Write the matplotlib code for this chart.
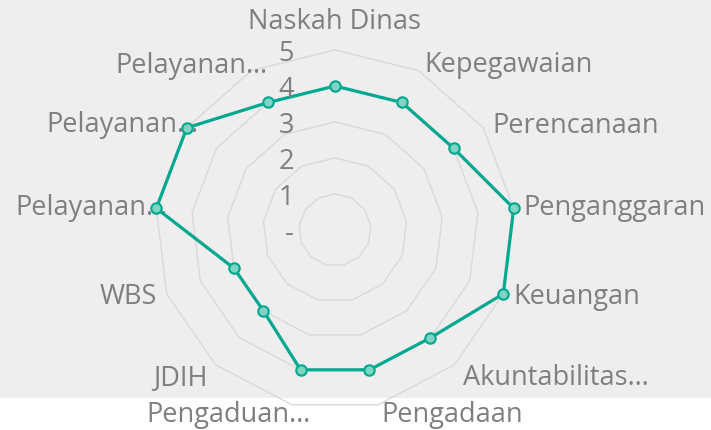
import numpy as np
import matplotlib
matplotlib.use('Agg')
import matplotlib.pyplot as plt
from matplotlib.patches import Rectangle

# data
categories = ['Naskah Dinas', 'Kepegawaian', 'Perencanaan', 'Penganggaran', 'Keuangan',
              'Akuntabilitas…', 'Pengadaan', 'Pengaduan…', 'JDIH', 'WBS',
              'Pelayanan…', 'Pelayanan…', 'Pelayanan…']
values = [4, 4, 4, 5, 5, 4, 4, 4, 3, 3, 5, 5, 4]
levels = [0, 1, 2, 3, 4, 5]
level_labels = ['-', '1', '2', '3', '4', '5']

# label placement (pixel offsets from outer vertex, alignment)
label_pos = [(0, 28, 'center'), (6, 6, 'left'), (9, 2, 'left'), (10, 0, 'left'),
             (10, -3, 'left'), (9, -13, 'left'), (3, -10, 'left'), (19, -10, 'right'),
             (-8, -13, 'right'), (-10, -3, 'right'), (11, 0, 'right'), (12, 3, 'right'),
             (16, 5, 'right')]

txt_color = '#7f7f7f'
line_color = '#00a88f'
fs = 19.5
plt.rcParams['font.family'] = ['Open Sans', 'DejaVu Sans']

fig = plt.figure(figsize=(7.11, 4.30), dpi=100, facecolor='white')
fig.patches.append(Rectangle((0, 32 / 430), 1, 1, transform=fig.transFigure,
                             facecolor='#efedee', edgecolor='none', zorder=-10))

ax = fig.add_axes([155 / 711, 20 / 430, 360 / 711, 360 / 430], projection='polar')
ax.set_theta_zero_location('N')
ax.set_theta_direction(-1)
ax.set_ylim(0, 5)
ax.set_facecolor('none')
ax.grid(False)
ax.spines['polar'].set_visible(False)
ax.set_xticks([])
ax.set_yticks([])

n = len(categories)
angles = np.arange(n) * 2 * np.pi / n
closed = np.append(angles, angles[0])

for lv in levels[1:]:
    ax.plot(closed, [lv] * (n + 1), color='#d9d9d9', lw=1, zorder=1, clip_on=False)

vals = values + values[:1]
ax.plot(closed, vals, color=line_color, lw=2.3, zorder=3, clip_on=False)
ax.plot(angles, values, 'o', ms=7.5, mfc='#80d4c4', mec=line_color, mew=1.5,
        zorder=4, clip_on=False)

for lv, lab in zip(levels, level_labels):
    ax.annotate(lab, xy=(0, lv), xytext=(-41, -4), textcoords='offset pixels',
                ha='right', va='center', fontsize=fs, color=txt_color)

for a, lab, (dx, dy, ha) in zip(angles, categories, label_pos):
    ax.annotate(lab, xy=(a, 5), xytext=(dx, dy), textcoords='offset pixels',
                ha=ha, va='center', fontsize=fs, color=txt_color, zorder=2,
                annotation_clip=False)

fig.savefig('out.png', dpi=100, facecolor=fig.get_facecolor())
